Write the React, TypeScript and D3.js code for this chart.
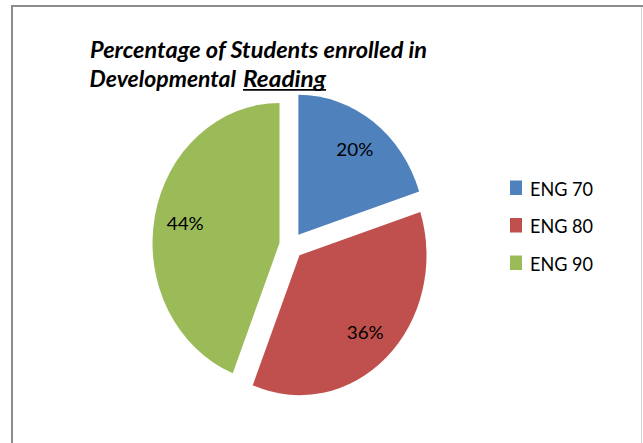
import React from "react";
import * as d3 from "d3";

const categories = ["ENG 70", "ENG 80", "ENG 90"];
const values = [20, 36, 44];
const labels = ["20%", "36%", "44%"];
const titleLine1 = "Percentage of Students enrolled in";
const titleLine2a = "Developmental";
const titleLine2b = "Reading";

const COLORS = ["#4F81BD", "#C0504D", "#9BBB59"];

const W = 643;
const H = 443;
const CX = 291.3;
const CY = 245.5;
const RX = 127;
const SY = 140 / 127;
const EXPLODE = 12;
const LABEL_R = 96;

export default function App() {
  const pie = d3.pie<number>().sort(null).value((d) => d);
  const arcs = pie(values);
  const arc = d3.arc<d3.PieArcDatum<number>>().innerRadius(0).outerRadius(RX);

  const legendY = d3.scalePoint<string>().domain(categories).range([188, 263]);

  return (
    <svg
      width={W}
      height={H}
      style={{ position: "absolute", left: 0, top: 0, background: "#fff" }}
    >
      <rect x={0} y={0} width={W} height={H} fill="#fff" />
      {/* frame */}
      <line x1={11} x2={643} y1={6} y2={6} stroke="#8c8c8c" strokeWidth={2} />
      <line x1={12} x2={12} y1={5} y2={443} stroke="#8c8c8c" strokeWidth={2} />
      <line x1={641.5} x2={641.5} y1={7} y2={443} stroke="#d4d4d4" strokeWidth={1} />

      {/* title */}
      <g
        fontFamily="Lato, 'Open Sans', sans-serif"
        fontWeight="bold"
        fontStyle="italic"
        fontSize={22}
        fill="#000"
      >
        <text x={90} y={57.5} textLength={337} lengthAdjust="spacingAndGlyphs">
          {titleLine1}
        </text>
        <text x={89.5} y={87} textLength={146.5} lengthAdjust="spacingAndGlyphs">
          {titleLine2a}
        </text>
        <text x={243} y={87} textLength={83} lengthAdjust="spacingAndGlyphs">
          {titleLine2b}
        </text>
        <line x1={243} x2={326} y1={89.8} y2={89.8} stroke="#000" strokeWidth={1.8} />
      </g>

      {/* pie */}
      {arcs.map((a, i) => {
        const mid = (a.startAngle + a.endAngle) / 2;
        const dx = EXPLODE * Math.sin(mid);
        const dy = -EXPLODE * Math.cos(mid) * SY;
        return (
          <g key={categories[i]} transform={`translate(${CX + dx},${CY + dy}) scale(1,${SY})`}>
            <path d={arc(a) || ""} fill={COLORS[i]} />
          </g>
        );
      })}

      {/* data labels */}
      {arcs.map((a, i) => {
        const mid = (a.startAngle + a.endAngle) / 2;
        const ox = CX + EXPLODE * Math.sin(mid);
        const oy = CY - EXPLODE * Math.cos(mid) * SY;
        const lx = ox + LABEL_R * Math.sin(mid);
        const ly = oy - LABEL_R * Math.cos(mid) * SY;
        return (
          <text
            key={labels[i]}
            x={lx}
            y={ly + 7}
            textAnchor="middle"
            fontFamily="Lato, 'Open Sans', sans-serif"
            fontSize={17}
            fill="#000"
            textLength={37}
            lengthAdjust="spacingAndGlyphs"
          >
            {labels[i]}
          </text>
        );
      })}

      {/* legend */}
      {categories.map((c, i) => {
        const y = legendY(c) as number;
        return (
          <g key={c}>
            <rect x={510} y={y - 7.5} width={12} height={14.5} fill={COLORS[i]} />
            <text
              x={530}
              y={y + 7.5}
              fontFamily="Lato, 'Open Sans', sans-serif"
              fontSize={18.5}
              fill="#000"
              textLength={63}
              lengthAdjust="spacingAndGlyphs"
            >
              {c}
            </text>
          </g>
        );
      })}
    </svg>
  );
}
